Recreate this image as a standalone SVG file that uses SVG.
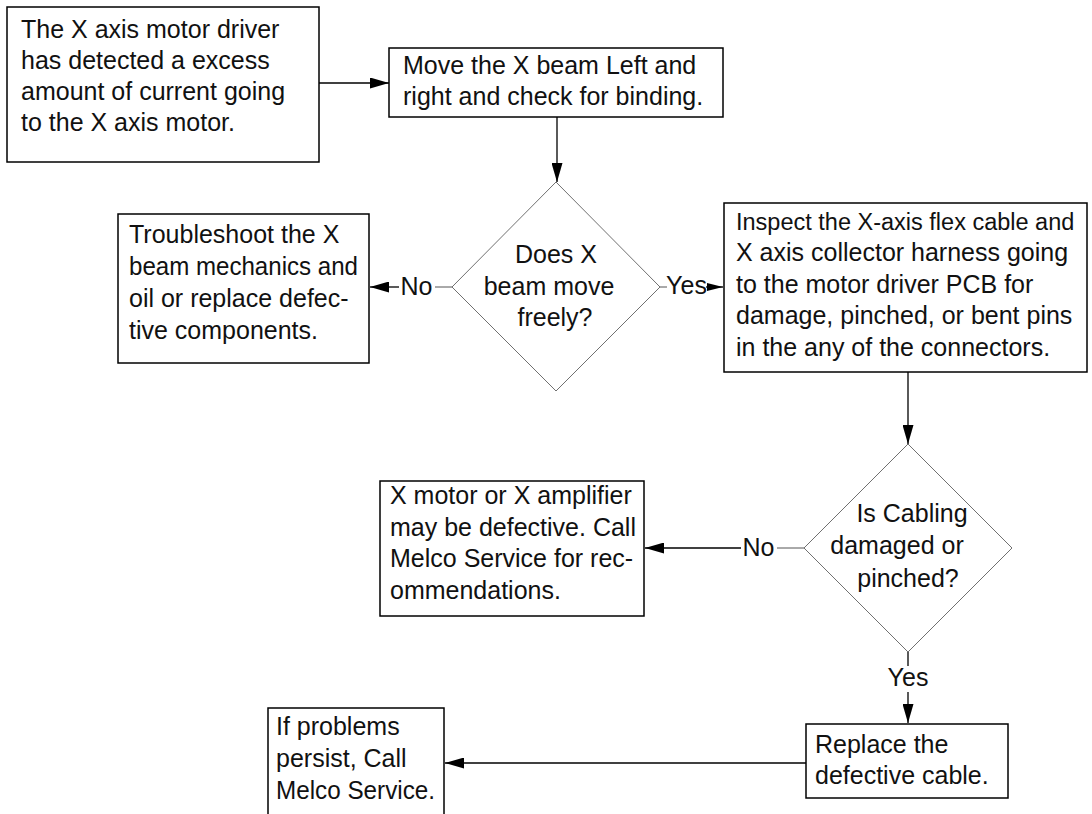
<svg xmlns="http://www.w3.org/2000/svg" width="1092" height="814" viewBox="0 0 1092 814">
  <style>
    .box { fill: #fff; stroke: #000; stroke-width: 1.5; }
    .dia { fill: #fff; stroke: #707070; stroke-width: 1; }
    .txt { font-family: "Liberation Sans", Arial, sans-serif; font-size: 25px; fill: #111; }
    .mid { text-anchor: middle; }
    .wire { fill: none; stroke: #000; stroke-width: 1.3; }
    .tick { fill: none; stroke: #555; stroke-width: 1; }
  </style>
  <defs>
    <marker id="head" markerUnits="userSpaceOnUse" markerWidth="19" markerHeight="11" refX="19" refY="5.5" orient="auto">
      <path d="M0,0 L19,5.5 L0,11 Z" fill="#000"/>
    </marker>
    <marker id="headSmall" markerUnits="userSpaceOnUse" markerWidth="16" markerHeight="8" refX="16" refY="4" orient="auto">
      <path d="M0,0 L16,4 L0,8 Z" fill="#000"/>
    </marker>
  </defs>

  <rect width="1092" height="814" fill="#fff"/>

  <!-- connectors -->
  <g id="connectors">
    <path class="wire" d="M319,83 H389" marker-end="url(#head)"/>
    <path class="wire" d="M557,117 V182" marker-end="url(#head)"/>
    <!-- first decision: No -->
    <path class="tick" d="M452,287 H435"/>
    <path class="wire" d="M399,287 H370" marker-end="url(#head)"/>
    <text class="txt mid" x="416.5" y="295">No</text>
    <!-- first decision: Yes -->
    <path class="tick" d="M660,287 H667"/>
    <path class="wire" d="M706,287 H723" marker-end="url(#headSmall)"/>
    <text class="txt mid" x="686.5" y="294">Yes</text>
    <path class="wire" d="M908,372 V444" marker-end="url(#head)"/>
    <!-- second decision: No -->
    <path class="tick" d="M804,548 H777"/>
    <path class="wire" d="M741,548 H645" marker-end="url(#head)"/>
    <text class="txt mid" x="758.5" y="556">No</text>
    <!-- second decision: Yes -->
    <path class="wire" d="M908,652 V666"/>
    <text class="txt mid" x="908" y="686">Yes</text>
    <path class="wire" d="M908,692 V723" marker-end="url(#head)"/>
    <path class="wire" d="M806,763 H445" marker-end="url(#head)"/>
  </g>

  <g id="n-start">
    <rect class="box" x="7" y="7" width="312" height="155"/>
    <text class="txt" x="21" y="38">The X axis motor driver</text>
    <text class="txt" x="21" y="69">has detected a excess</text>
    <text class="txt" x="21" y="100">amount of current going</text>
    <text class="txt" x="21" y="131">to the X axis motor.</text>
  </g>

  <g id="n-move">
    <rect class="box" x="389" y="48" width="334" height="69"/>
    <text class="txt" x="403" y="74">Move the X beam Left and</text>
    <text class="txt" x="403" y="105">right and check for binding.</text>
  </g>

  <g id="n-free">
    <path class="dia" d="M556,182 L660,287 L556,391 L452,287 Z"/>
    <text class="txt mid" x="556" y="263">Does X</text>
    <text class="txt mid" x="549" y="295">beam move</text>
    <text class="txt mid" x="555" y="326">freely?</text>
  </g>

  <g id="n-mech">
    <rect class="box" x="118" y="214" width="251" height="149"/>
    <text class="txt" x="129" y="243">Troubleshoot the X</text>
    <text class="txt" x="129" y="275" textLength="229" lengthAdjust="spacingAndGlyphs">beam mechanics and</text>
    <text class="txt" x="129" y="307">oil or replace defec-</text>
    <text class="txt" x="129" y="339">tive components.</text>
  </g>

  <g id="n-inspect">
    <rect class="box" x="724" y="203" width="363" height="169"/>
    <text class="txt" x="736" y="230" style="font-size:23.5px">Inspect the X-axis flex cable and</text>
    <text class="txt" x="736" y="261">X axis collector harness going</text>
    <text class="txt" x="736" y="293">to the motor driver PCB for</text>
    <text class="txt" x="736" y="324">damage, pinched, or bent pins</text>
    <text class="txt" x="736" y="356">in the any of the connectors.</text>
  </g>

  <g id="n-cabling">
    <path class="dia" d="M908,444 L1012,548 L908,652 L804,548 Z"/>
    <text class="txt mid" x="912" y="522">Is Cabling</text>
    <text class="txt mid" x="897" y="554">damaged or</text>
    <text class="txt mid" x="908" y="587">pinched?</text>
  </g>

  <g id="n-amp">
    <rect class="box" x="380" y="481" width="264" height="135"/>
    <text class="txt" x="390" y="504">X motor or X amplifier</text>
    <text class="txt" x="390" y="536">may be defective. Call</text>
    <text class="txt" x="390" y="567">Melco Service for rec-</text>
    <text class="txt" x="390" y="599">ommendations.</text>
  </g>

  <g id="n-replace">
    <rect class="box" x="806" y="724" width="202" height="74"/>
    <text class="txt" x="815" y="753">Replace the</text>
    <text class="txt" x="815" y="784">defective cable.</text>
  </g>

  <g id="n-persist">
    <rect class="box" x="268" y="708" width="176" height="130"/>
    <text class="txt" x="276" y="735">If problems</text>
    <text class="txt" x="276" y="767">persist, Call</text>
    <text class="txt" x="276" y="799" textLength="159" lengthAdjust="spacingAndGlyphs">Melco Service.</text>
  </g>
</svg>
